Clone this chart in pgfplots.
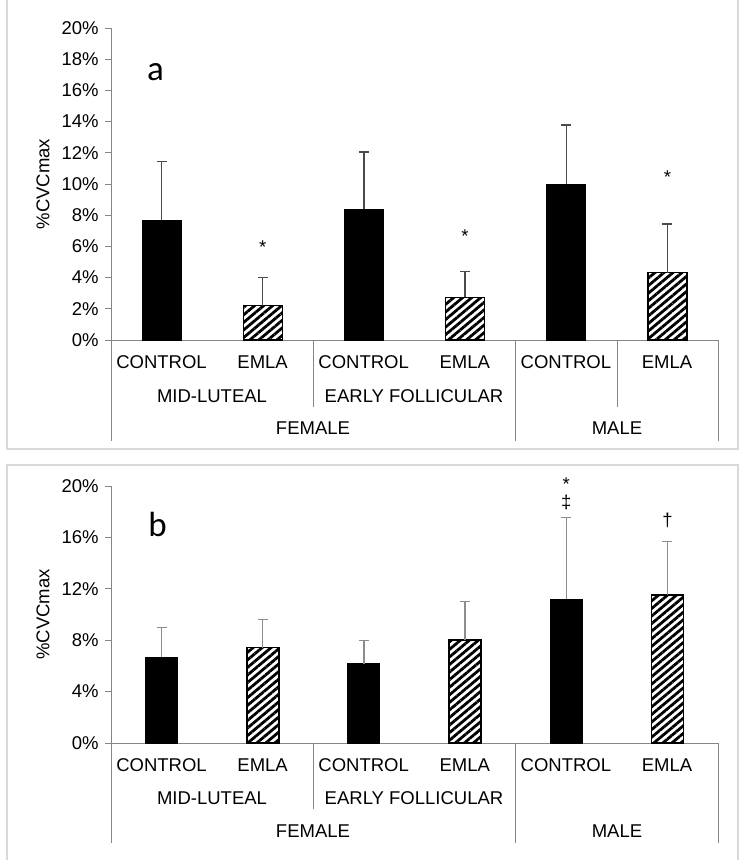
\documentclass[border=0pt]{standalone}
\usepackage{fontspec}
\setmainfont{Liberation Sans}
\newfontfamily\calib{Carlito}
\usepackage{pgfplots}
\pgfplotsset{compat=1.18}
\usetikzlibrary{patterns.meta}
\definecolor{axgray}{HTML}{868686}
\definecolor{framegray}{HTML}{D9D9D9}
\definecolor{erra}{HTML}{4A4A4A}
\definecolor{errb}{HTML}{8C8C8C}
\newcommand{\lbl}{\fontsize{18.5}{21}\selectfont}

\pgfplotstableread{
x y e
0.5 7.69 3.74
2.5 8.38 3.67
4.5 10.0 3.78
}\actrl
\pgfplotstableread{
x y e
1.5 2.2 1.8
3.5 2.73 1.65
5.5 4.32 3.12
}\aemla
\pgfplotstableread{
x y e
0.5 6.68 2.32
2.5 6.18 1.82
4.5 11.2 6.38
}\bctrl
\pgfplotstableread{
x y e
1.5 7.43 2.2
3.5 8.0 3.02
5.5 11.5 4.2
}\bemla

\pgfplotsset{
  panel/.style={
    scale only axis, width=607pt,
    xmin=0, xmax=6, ymin=0, ymax=20,
    axis x line=bottom, axis y line=left,
    axis line style={-, draw=axgray, line width=1pt},
    xtick=\empty,
    tick align=outside, major tick length=6pt,
    tick style={draw=axgray, line width=1pt},
    yticklabel style={font=\lbl, text=black},
    ylabel={\%CVCmax},
    every axis y label/.style={at={(axis description cs:-0.112,0.5)}, rotate=90, anchor=center, font=\lbl},
    clip=false,
  },
  ctrlbar/.style={ybar, bar shift=0pt, fill=black, draw=black, line width=1pt,
    error bars/.cd, y dir=plus, y explicit,
    error bar style={line width=1.2pt, draw=#1},
    error mark options={rotate=90, mark size=5pt, line width=1.2pt, draw=#1},
    /pgfplots/.cd},
  emlabar/.style={ybar, bar shift=0pt, draw=black, line width=1.5pt,
    pattern={Lines[angle=40, distance=5.8pt, line width=2.8pt]}, pattern color=black,
    error bars/.cd, y dir=plus, y explicit,
    error bar style={line width=1.2pt, draw=#1},
    error mark options={rotate=90, mark size=5pt, line width=1.2pt, draw=#1},
    /pgfplots/.cd},
}

\begin{document}
\lbl
\begin{tikzpicture}[x=1pt,y=1pt]
\useasboundingbox (0,0) rectangle (742,-860);
\draw[framegray, line width=1.2pt] (7,0) -- (7,-449) -- (738,-449) -- (738,0);
\draw[framegray, line width=1.2pt] (7,-860) -- (7,-465) -- (738,-465) -- (738,-860);

% ---------- panel a ----------
\begin{axis}[panel, at={(111pt,-340pt)}, anchor=south west, height=312pt,
  ytick={0,2,...,20},
  yticklabels={0\%,2\%,4\%,6\%,8\%,10\%,12\%,14\%,16\%,18\%,20\%}]
\addplot[bar width=39pt, ctrlbar=erra] table[x=x,y=y,y error=e] {\actrl};
\addplot[bar width=39pt, emlabar=erra] table[x=x,y=y,y error=e] {\aemla};
\node[font=\calib\fontsize{35}{40}\selectfont] at (axis cs:0.44,17.15) {a};
\node[font=\lbl] at (axis cs:1.5,5.97) {*};
\node[font=\lbl] at (axis cs:3.5,6.63) {*};
\node[font=\lbl] at (axis cs:5.5,10.47) {*};
\end{axis}

% ---------- panel b ----------
\begin{axis}[panel, at={(111pt,-743pt)}, anchor=south west, height=257pt,
  ytick={0,4,...,20},
  yticklabels={0\%,4\%,8\%,12\%,16\%,20\%}]
\addplot[bar width=32pt, ctrlbar=errb] table[x=x,y=y,y error=e] {\bctrl};
\addplot[bar width=32pt, emlabar=errb] table[x=x,y=y,y error=e] {\bemla};
\node[font=\calib\fontsize{35}{40}\selectfont] at (axis cs:0.46,16.97) {b};
\node[font=\lbl] at (axis cs:4.5,20.12) {*};
\node[font=\lbl] at (axis cs:4.5,18.75) {‡};
\node[font=\lbl] at (axis cs:5.5,17.35) {†};
\end{axis}

% ---------- category separators and labels ----------
\begin{scope}[axgray, line width=1pt]
\draw (111,-340) -- (111,-441);
\draw (313,-340) -- (313,-407);
\draw (515,-340) -- (515,-441);
\draw (617,-340) -- (617,-407);
\draw (718,-340) -- (718,-441);
\draw (111,-743) -- (111,-843);
\draw (313,-743) -- (313,-809);
\draw (515,-743) -- (515,-843);
\draw (718,-743) -- (718,-843);
\end{scope}

\foreach \ya/\yb/\yc in {362/396/428, 765/798/831}{
  \node[font=\lbl] at (161.5,-\ya) {CONTROL};
  \node[font=\lbl] at (262.6,-\ya) {EMLA};
  \node[font=\lbl] at (363.7,-\ya) {CONTROL};
  \node[font=\lbl] at (464.8,-\ya) {EMLA};
  \node[font=\lbl] at (565.9,-\ya) {CONTROL};
  \node[font=\lbl] at (667,-\ya) {EMLA};
  \node[font=\lbl] at (212,-\yb) {MID-LUTEAL};
  \node[font=\lbl] at (414,-\yb) {EARLY FOLLICULAR};
  \node[font=\lbl] at (313,-\yc) {FEMALE};
  \node[font=\lbl] at (617,-\yc) {MALE};
}
\end{tikzpicture}
\end{document}
